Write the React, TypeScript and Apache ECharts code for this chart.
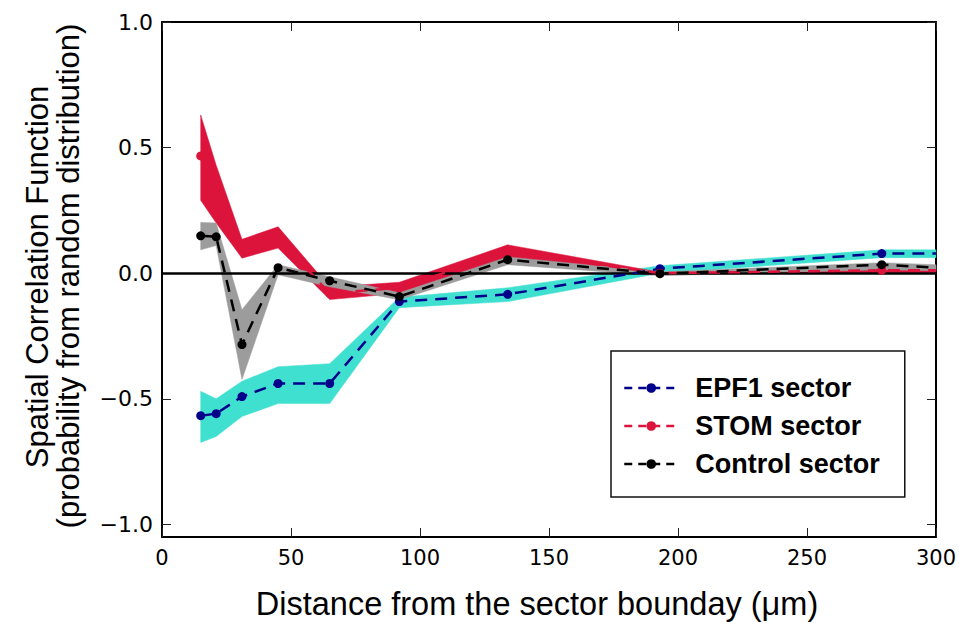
import React, { useEffect, useRef } from 'react';
import * as echarts from 'echarts';

// Distance from the sector boundary (µm)
const distances = [15, 21, 31, 45, 65, 92, 134, 193, 279, 300];

// EPF1 sector
const epf1 = [-0.567, -0.559, -0.491, -0.439, -0.439, -0.113, -0.084, 0.018, 0.078, 0.078];
const epf1Lo = [-0.674, -0.65, -0.57, -0.519, -0.519, -0.137, -0.113, 0.0, 0.062, 0.062];
const epf1Hi = [-0.47, -0.5, -0.43, -0.372, -0.36, -0.096, -0.058, 0.03, 0.093, 0.093];

// STOM sector
const stom = [0.467, 0.32, 0.1, 0.14, -0.08, -0.058, 0.085, 0.0, 0.012, 0.012];
const stomLo = [0.29, 0.2, 0.06, 0.1, -0.105, -0.08, 0.06, -0.004, 0.002, 0.002];
const stomHi = [0.63, 0.43, 0.135, 0.185, -0.055, -0.036, 0.113, 0.004, 0.022, 0.022];

// Control sector
const control = [0.149, 0.145, -0.284, 0.022, -0.03, -0.093, 0.054, -0.002, 0.034, 0.022];
const controlLo = [0.093, 0.11, -0.423, -0.006, -0.054, -0.106, 0.034, -0.01, 0.014, 0.01];
const controlHi = [0.202, 0.2, -0.145, 0.034, -0.014, -0.078, 0.065, 0.005, 0.042, 0.034];

const xTicks = [0, 50, 100, 150, 200, 250, 300];
const yTicks = [-1.0, -0.5, 0.0, 0.5, 1.0];

const seriesNames = ['EPF1 sector', 'STOM sector', 'Control sector'];

const NAVY = '#00008B';
const CRIMSON = '#DC143C';
const BLACK = '#000000';
const TURQUOISE = '#40E0D0';
const GRAY = '#9c9c9c';

function bandSeries(name: string, lo: number[], hi: number[], color: string) {
  return {
    type: 'custom',
    name,
    silent: true,
    z: 1,
    data: distances.map((d, i) => [d, lo[i], hi[i]]),
    encode: { x: 0, y: [1, 2] },
    renderItem: (params: any, api: any) => {
      if (params.dataIndex !== 0) return null;
      const upper = distances.map((d, i) => api.coord([d, hi[i]]));
      const lower = distances.map((d, i) => api.coord([d, lo[i]])).reverse();
      return {
        type: 'polygon',
        shape: { points: upper.concat(lower) },
        style: { fill: color, stroke: color, lineWidth: 0.5 },
      };
    },
  };
}

function lineSeries(name: string, values: number[], color: string) {
  return {
    type: 'line',
    name,
    z: 3,
    symbol: 'circle',
    symbolSize: 9,
    showAllSymbol: true,
    itemStyle: { color },
    lineStyle: { color, width: 2.5, type: [12, 8] },
    data: distances.map((d, i) =>
      i === distances.length - 1 ? { value: [d, values[i]], symbol: 'none' } : [d, values[i]]
    ),
  };
}

const fmtY = (v: number) => (v < 0 ? '\u2212' + Math.abs(v).toFixed(1) : v.toFixed(1));

export default function App() {
  const ref = useRef<HTMLDivElement>(null);
  useEffect(() => {
    if (!ref.current) return;
    const chart = echarts.init(ref.current, null, { renderer: 'svg' });
    const axisLine = { show: true, onZero: false, lineStyle: { color: BLACK, width: 2 } };
    const tick = { show: true, inside: true, length: 9, lineStyle: { color: '#222', width: 1 } };
    const option: any = {
      animation: false,
      backgroundColor: '#ffffff',
      grid: { left: 162, right: 23, top: 22, bottom: 86 },
      xAxis: [
        {
          type: 'value', min: 0, max: 300, interval: 50, position: 'bottom',
          axisLine, axisTick: tick, splitLine: { show: false },
          axisLabel: { color: BLACK, fontFamily: 'DejaVu Sans', fontSize: 21, margin: 10, customValues: xTicks },
        },
        {
          type: 'value', min: 0, max: 300, interval: 50, position: 'top',
          axisLine, axisTick: tick, splitLine: { show: false }, axisLabel: { show: false },
        },
      ],
      yAxis: [
        {
          type: 'value', min: -1.05, max: 1.0, position: 'left',
          axisLine, splitLine: { show: false },
          axisTick: { ...tick, customValues: yTicks },
          axisLabel: { color: BLACK, fontFamily: 'DejaVu Sans', fontSize: 22, margin: 9, customValues: yTicks, formatter: fmtY },
        },
        {
          type: 'value', min: -1.05, max: 1.0, position: 'right',
          axisLine, splitLine: { show: false },
          axisTick: { ...tick, customValues: yTicks },
          axisLabel: { show: false },
        },
      ],
      legend: {
        data: seriesNames,
        orient: 'vertical',
        left: 611,
        top: 351,
        padding: [22, 25, 18, 12],
        itemGap: 8,
        itemWidth: 54,
        itemHeight: 12,
        borderColor: '#111',
        borderWidth: 1.5,
        borderRadius: 0,
        backgroundColor: '#ffffff',
        lineStyle: { width: 2.5, type: [8, 6] },
        textStyle: {
          color: BLACK, fontFamily: 'Liberation Sans', fontWeight: 'bold', fontSize: 27,
          lineHeight: 30, padding: [0, 0, 0, 12],
        },
      },
      graphic: [
        {
          type: 'text', x: 37, y: 277, rotation: Math.PI / 2,
          style: {
            text: 'Spatial Correlation Function', fontFamily: 'Liberation Sans', fontSize: 31,
            fill: BLACK, align: 'center', verticalAlign: 'middle',
          },
        },
        {
          type: 'text', x: 68, y: 276, rotation: Math.PI / 2,
          style: {
            text: '(probability from random distribution)', fontFamily: 'Liberation Sans', fontSize: 31,
            fill: BLACK, align: 'center', verticalAlign: 'middle',
          },
        },
        {
          type: 'text', x: 537, y: 604,
          style: {
            text: 'Distance from the sector bounday (\u03bcm)', fontFamily: 'Liberation Sans', fontSize: 32.5,
            fill: BLACK, align: 'center', verticalAlign: 'middle',
          },
        },
      ],
      series: [
        bandSeries('EPF1 band', epf1Lo, epf1Hi, TURQUOISE),
        bandSeries('STOM band', stomLo, stomHi, CRIMSON),
        bandSeries('Control band', controlLo, controlHi, GRAY),
        {
          ...lineSeries(seriesNames[0], epf1, NAVY),
          markLine: {
            silent: true, symbol: 'none', label: { show: false },
            lineStyle: { color: BLACK, width: 2.5, type: 'solid' },
            data: [{ yAxis: 0 }],
            z: 2,
          },
        },
        lineSeries(seriesNames[1], stom, CRIMSON),
        lineSeries(seriesNames[2], control, BLACK),
      ],
    };
    chart.setOption(option);
    return () => chart.dispose();
  }, []);
  return <div ref={ref} style={{ position: 'fixed', left: 0, top: 0, width: 959, height: 623 }} />;
}
